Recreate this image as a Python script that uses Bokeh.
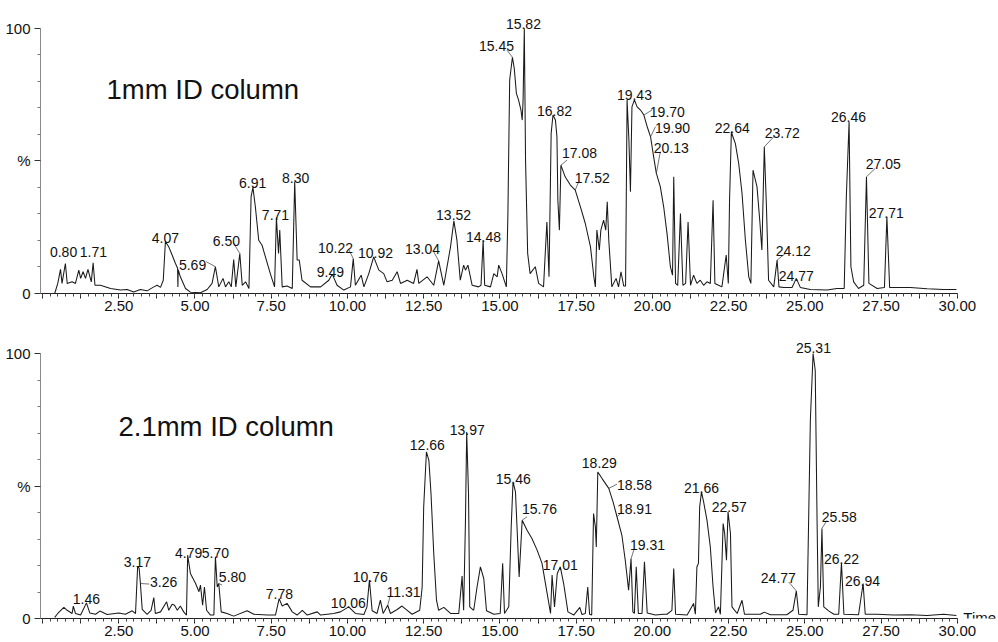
from bokeh.plotting import figure
from bokeh.layouts import column
from bokeh.models import (Range1d, SingleIntervalTicker, FixedTicker, CustomJSTickFormatter,
                          Label, ColumnDataSource)
from bokeh.embed import file_html
from bokeh.resources import INLINE
from bokeh.core.properties import value

# ---------------- data: 1 mm ID column (time in min, relative intensity %) ----------------
top_time = [0.40, 0.50, 0.59, 0.64, 0.75, 0.81, 0.97, 1.08, 1.19, 1.25, 1.33, 1.41, 1.49, 1.60, 1.66,
            1.72, 1.90, 2.23, 2.56, 2.78, 2.99, 3.21, 3.43, 3.65, 3.76, 3.87, 3.96, 4.03, 4.14, 4.25,
            4.36, 4.43, 4.44, 4.45, 4.52, 4.69, 4.85, 5.18, 5.40, 5.56, 5.67, 5.78, 5.92, 6.00, 6.11,
            6.19, 6.27, 6.34, 6.47, 6.55, 6.66, 6.77, 6.84, 6.90, 6.98, 7.09, 7.20, 7.31, 7.47, 7.61,
            7.67, 7.74, 7.78, 7.86, 8.02, 8.19, 8.27, 8.35, 8.42, 8.51, 8.79, 9.12, 9.39, 9.50, 9.66,
            9.88, 10.10, 10.19, 10.26, 10.45, 10.54, 10.70, 10.86, 11.03, 11.19, 11.30, 11.47, 11.63,
            11.74, 11.96, 12.17, 12.28, 12.34, 12.61, 12.83, 12.99, 13.16, 13.38, 13.49, 13.59, 13.70,
            13.81, 13.87, 13.95, 14.09, 14.30, 14.38, 14.45, 14.50, 14.69, 14.80, 14.91, 14.96, 15.07,
            15.21, 15.26, 15.32, 15.41, 15.47, 15.54, 15.61, 15.69, 15.73, 15.76, 15.80, 15.84, 15.91,
            15.99, 16.16, 16.27, 16.43, 16.54, 16.61, 16.68, 16.74, 16.82, 16.87, 16.90, 16.95, 17.00,
            17.14, 17.31, 17.47, 17.64, 17.80, 17.97, 18.08, 18.13, 18.18, 18.26, 18.31, 18.40, 18.47,
            18.52, 18.57, 18.67, 18.81, 18.89, 18.97, 19.06, 19.12, 19.17, 19.23, 19.28, 19.33, 19.41,
            19.50, 19.61, 19.72, 19.83, 19.94, 20.04, 20.13, 20.26, 20.37, 20.48, 20.59, 20.66, 20.70,
            20.76, 20.83, 20.92, 21.00, 21.09, 21.17, 21.25, 21.35, 21.46, 21.57, 21.68, 21.79, 21.90,
            21.99, 22.05, 22.17, 22.28, 22.42, 22.49, 22.53, 22.59, 22.64, 22.72, 22.83, 22.94, 23.05,
            23.16, 23.23, 23.30, 23.43, 23.52, 23.59, 23.67, 23.74, 23.81, 23.98, 24.09, 24.15, 24.31,
            24.58, 24.72, 24.85, 25.18, 25.73, 26.05, 26.29, 26.36, 26.45, 26.51, 26.60, 26.76, 26.93,
            27.02, 27.10, 27.37, 27.61, 27.69, 27.78, 28.46, 29.01, 29.55, 29.97]
top_pct = [0, 3.8, 9.1, 3.8, 11.3, 3.8, 4.4, 3.8, 8.8, 5.7, 8.2, 5.7, 9.1, 4.4, 11.6,
           3.1, 3.1, 1.9, 1.3, 1.5, 0.6, 1.5, 1.0, 2.5, 3.1, 2.3, 5.0, 19.5, 17.6, 14.5,
           11.3, 9.5, 2.5, 9.0, 6.3, 1.9, 0.5, 0.3, 1.5, 3.8, 10.1, 2.5, 5.7, 2.5, 4.4,
           2.5, 12.8, 2.5, 15.1, 3.1, 4.4, 1.9, 36.5, 40.0, 32.7, 20.1, 18.2, 13.8, 7.5, 2.5,
           28.7, 15.1, 23.9, 2.5, 2.8, 1.9, 42.1, 12.6, 12.6, 5.0, 2.5, 2.5, 5.0, 7.3, 3.1,
           1.3, 2.5, 13.2, 3.1, 6.9, 2.5, 7.5, 13.8, 8.8, 7.5, 4.4, 5.0, 8.2,
           3.8, 5.0, 3.8, 9.1, 3.8, 6.3, 3.1, 12.3, 3.1, 17.6, 27.4, 20.1, 5.0,
           10.7, 8.8, 10.7, 3.1, 2.5, 3.1, 20.1, 3.1, 2.5, 7.5, 6.3, 10.7, 7.5,
           2.5, 28.9, 80.5, 89.1, 84.9, 75.5, 73.0, 69.2, 65.4, 73.0, 100, 50.3, 15.1,
           7.5, 10.1, 3.8, 2.5, 27.0, 6.3, 60.4, 67.3, 65.4, 59.1, 35.2, 23.9, 48.4,
           44.0, 40.9, 39.0, 32.7, 26.4, 17.6, 6.3, 2.5, 23.9, 16.4, 23.9, 27.7, 23.9,
           34.6, 20.1, 2.5, 5.7, 2.5, 8.2, 2.8, 2.8, 73.0, 57.9, 38.4, 70.4, 73.0,
           70.4, 69.2, 67.3, 62.9, 59.1, 51.6, 45.3, 40.3, 32.7, 22.6, 10.1, 6.9, 44.0,
           3.8, 3.1, 30.2, 3.1, 3.8, 27.0, 3.1, 6.9, 3.8, 5.0, 3.1, 4.4, 3.8,
           35.2, 3.8, 3.1, 2.5, 14.5, 3.8, 35.2, 61.0, 59.1, 56.6, 49.1, 37.7, 20.1,
           6.3, 3.8, 46.5, 40.3, 27.7, 16.4, 55.3, 32.7, 5.0, 2.5, 12.6, 2.5, 2.3,
           2.3, 5.7, 2.3, 1.5, 1.3, 1.9, 1.9, 36.5, 64.8, 10.1, 4.4, 1.9, 3.1,
           44.0, 3.8, 1.9, 2.3, 28.9, 2.3, 2.3, 1.8, 1.5, 1.5]

top_labels = ["0.80", "1.71", "4.07", "5.69", "6.50", "6.91", "7.71", "8.30", "9.49", "10.22",
              "10.92", "13.04", "13.52", "14.48", "15.45", "15.82", "16.82", "17.08", "17.52",
              "19.43", "19.70", "19.90", "20.13", "22.64", "23.72", "24.12", "24.77", "26.46",
              "27.05", "27.71"]
top_apex = [0.75, 1.66, 4.03, 5.67, 6.47, 6.90, 7.67, 8.27, 9.50, 10.19,
            10.86, 12.99, 13.49, 14.45, 15.41, 15.80, 16.74, 17.00, 17.47,
            19.41, 19.72, 19.94, 20.13, 22.59, 23.67, 24.09, 24.72, 26.45,
            27.02, 27.69]

# ---------------- data: 2.1 mm ID column ----------------
bot_time = [0.40, 0.50, 0.70, 0.81, 0.97, 1.01, 1.08, 1.25, 1.44, 1.55, 1.74, 1.88, 2.12, 2.50, 2.72,
            2.94, 3.05, 3.12, 3.17, 3.21, 3.27, 3.43, 3.56, 3.65, 3.70, 3.87, 4.07, 4.14, 4.25, 4.33,
            4.42, 4.52, 4.63, 4.72, 4.76, 4.85, 5.02, 5.13, 5.18, 5.25, 5.31, 5.38, 5.51, 5.62, 5.67,
            5.73, 5.78, 5.86, 6.05, 6.27, 6.71, 6.93, 7.37, 7.64, 7.76, 7.86, 8.02, 8.19, 8.35, 8.52,
            8.68, 9.01, 9.12, 9.55, 9.77, 10.04, 10.26, 10.54, 10.64, 10.72, 10.81, 10.97, 11.08,
            11.17, 11.32, 11.41, 11.63, 11.79, 11.96, 12.12, 12.37, 12.45, 12.50, 12.59, 12.67, 12.74,
            12.83, 12.92, 12.99, 13.16, 13.38, 13.65, 13.76, 13.81, 13.87, 13.91, 13.97, 14.01, 14.14,
            14.25, 14.36, 14.47, 14.56, 14.80, 15.01, 15.09, 15.15, 15.29, 15.37, 15.43, 15.51, 15.56,
            15.63, 15.73, 15.89, 16.05, 16.22, 16.38, 16.55, 16.66, 16.71, 16.79, 16.88, 16.98, 17.09,
            17.23, 17.42, 17.62, 17.69, 17.80, 17.88, 17.94, 18.01, 18.07, 18.13, 18.16, 18.21, 18.35,
            18.57, 18.71, 18.84, 19.00, 19.11, 19.22, 19.30, 19.36, 19.41, 19.47, 19.54, 19.66, 19.74,
            19.83, 20.10, 20.37, 20.48, 20.64, 20.70, 20.76, 21.14, 21.35, 21.41, 21.46, 21.51, 21.55,
            21.61, 21.68, 21.79, 21.90, 21.99, 22.07, 22.17, 22.23, 22.32, 22.37, 22.43, 22.48, 22.56,
            22.61, 22.78, 22.94, 23.02, 23.54, 23.67, 23.87, 24.41, 24.61, 24.72, 24.80, 25.07, 25.18,
            25.27, 25.34, 25.40, 25.44, 25.51, 25.56, 25.62, 25.78, 25.95, 26.11, 26.20, 26.28, 26.76,
            26.91, 26.98, 27.37, 27.91, 28.46, 29.01, 29.55, 29.97]
bot_pct = [0.4, 1.9, 4.2, 3.1, 1.9, 4.7, 1.9, 1.3, 5.9, 2.1, 1.6, 2.8, 1.5, 2.1, 1.6,
           2.9, 1.9, 19.7, 18.9, 13.2, 3.4, 1.6, 3.1, 7.9, 1.9, 2.5, 6.3, 3.1, 5.4, 5.0,
           3.1, 4.7, 2.5, 1.3, 23.9, 17.0, 13.2, 10.1, 12.6, 5.0, 11.9, 3.1, 1.3, 1.3, 23.3,
           11.9, 13.2, 2.5, 1.9, 0.9, 2.9, 1.6, 1.3, 1.3, 7.5, 4.7, 5.7, 2.5, 1.3, 3.1,
           1.3, 2.5, 1.3, 1.9, 2.5, 4.4, 1.9, 1.5, 4.4, 14.5, 2.9, 1.9, 6.9,
           1.9, 5.0, 1.9, 3.4, 4.7, 3.1, 1.6, 3.1, 11.9, 42.1, 62.9, 59.7, 47.2,
           24.5, 6.9, 3.1, 4.2, 1.9, 1.9, 16.0, 3.1, 37.1, 70.4, 47.2, 4.4, 3.1,
           11.9, 19.5, 15.1, 2.9, 1.6, 1.9, 20.8, 1.9, 4.4, 34.6, 51.6, 47.8, 34.6,
           15.7, 37.1, 33.3, 30.2, 25.8, 20.8, 9.4, 1.9, 16.4, 4.4, 17.0, 19.5, 13.2,
           2.5, 1.3, 4.2, 1.5, 1.9, 11.9, 1.6, 1.3, 39.6, 34.6, 27.0, 55.3, 52.8,
           49.1, 44.0, 38.4, 31.4, 22.0, 10.7, 22.6, 2.5, 1.9, 19.5, 1.9, 1.9, 21.4,
           2.1, 1.3, 1.6, 1.6, 3.1, 18.9, 1.6, 1.3, 5.7, 1.6, 19.5, 20.8, 42.1,
           47.8, 44.0, 37.1, 27.0, 11.9, 2.1, 4.4, 1.6, 35.8, 32.1, 22.0, 40.3, 32.1,
           4.4, 1.9, 6.9, 1.6, 1.6, 2.4, 1.4, 1.4, 3.1, 10.4, 1.6, 1.4, 74.8,
           100, 93.7, 37.1, 4.4, 11.9, 34.0, 4.4, 2.9, 1.6, 1.6, 21.0, 1.6, 1.4,
           13.2, 1.6, 1.6, 1.3, 1.4, 1.1, 1.6, 1.1]

bot_labels = ["1.46", "3.17", "3.26", "4.79", "5.70", "5.80", "7.78", "10.06", "10.76", "11.31",
              "12.66", "13.97", "15.46", "15.76", "17.01", "18.29", "18.58", "18.91", "19.31",
              "21.66", "22.57", "24.77", "25.31", "25.58", "26.22", "26.94"]
bot_apex = [1.44, 3.12, 3.21, 4.76, 5.67, 5.78, 7.76, 10.04, 10.72, 11.32,
            12.59, 13.91, 15.43, 15.73, 16.98, 18.21, 18.57, 18.84, 19.30,
            21.61, 22.48, 24.72, 25.27, 25.56, 26.20, 26.91]

# ---------------- annotation layout (label anchor positions, leader starts) ----------------
top_lab_x = [0.69, 1.67, 4.03, 4.92, 6.03, 6.89, 7.64, 8.30, 9.44, 9.61,
             10.92, 12.46, 13.48, 14.46, 14.89, 15.77, 16.79, 17.61, 18.03,
             19.41, 20.49, 20.66, 20.62, 22.62, 24.26, 24.62, 24.72, 26.43,
             27.57, 27.67]
top_lab_y = [15.6, 15.6, 21.0, 10.7, 19.8, 41.6, 29.6, 43.5, 8.1, 17.0,
             15.1, 16.6, 29.5, 21.4, 93.4, 101.6, 68.8, 52.8, 43.4,
             74.8, 68.5, 62.3, 54.7, 62.3, 60.4, 16.1, 6.5, 66.4,
             48.7, 30.4]
top_leader = {"5.69": (5.37, 12.0), "6.50": (6.27, 18.9), "10.22": (10.04, 16.6),
              "13.04": (12.83, 15.7), "15.45": (15.23, 91.8), "17.08": (17.20, 50.3),
              "17.52": (17.58, 42.1), "19.70": (19.99, 69.2), "19.90": (20.10, 62.9),
              "20.13": (20.26, 53.5), "23.72": (23.98, 59.1), "24.12": (24.36, 15.1),
              "27.05": (27.31, 47.2)}

bot_lab_x = [1.44, 3.11, 3.97, 4.79, 5.67, 6.23, 7.77, 10.03, 10.75, 11.84,
             12.62, 13.93, 15.44, 16.30, 16.98, 18.26, 19.41, 19.41, 19.84,
             21.61, 22.52, 24.13, 25.28, 26.13, 26.20, 26.89]
bot_lab_y = [7.5, 21.4, 13.8, 24.8, 24.8, 15.7, 9.1, 5.9, 15.7, 10.1,
             65.4, 71.1, 52.8, 41.5, 20.1, 58.5, 50.3, 41.5, 27.7,
             49.1, 42.1, 15.1, 101.9, 38.4, 22.6, 14.1]
bot_leader = {"3.26": (3.50, 13.0), "5.80": (5.89, 12.6), "11.31": (11.41, 8.8),
              "15.76": (15.89, 38.4), "18.58": (18.84, 50.7), "18.91": (19.01, 40.3),
              "19.31": (19.39, 25.8), "24.77": (24.47, 13.8), "25.58": (25.73, 37.1)}

FONT = "Liberation Sans"
X_START, X_END, X_AXIS_END = -0.066, 31.35, 30.0


def panel(title, tx, ty, t, pct, labels, apex, lx, ly, leaders, y_end, frame_h, show_time):
    p = figure(frame_width=958, frame_height=frame_h,
               x_range=Range1d(X_START, X_END), y_range=Range1d(0, y_end),
               output_backend="svg", toolbar_location=None,
               min_border_left=40, min_border_right=0, min_border_top=0, min_border_bottom=0)
    p.grid.visible = False
    p.outline_line_color = None
    p.background_fill_color = "white"
    p.border_fill_color = "white"

    p.line(t, pct, line_color="#1a1a1a", line_width=1.05)

    # leader lines from label to the peak apex (apex value looked up in the trace)
    x0, y0, x1, y1 = [], [], [], []
    for lab, ap in zip(labels, apex):
        if lab in leaders:
            sx, sy = leaders[lab]
            i = t.index(ap)
            x0.append(sx); y0.append(sy); x1.append(t[i]); y1.append(pct[i])
    p.segment(x0=x0, y0=y0, x1=x1, y1=y1, line_color="#333333", line_width=0.7)

    src = ColumnDataSource(dict(x=lx, y=ly, text=labels))
    p.text(x="x", y="y", text="text", source=src, text_align="center",
           text_baseline="alphabetic", text_font=value(FONT), text_font_size=value("14px"),
           text_color="#111111")

    p.add_layout(Label(x=tx, y=ty, text=title, text_font=FONT, text_font_size="27.5px",
                       text_baseline="alphabetic", text_color="#111111"))

    # x axis
    xa = p.xaxis[0]
    xa.bounds = (X_START, X_AXIS_END)
    xa.ticker = SingleIntervalTicker(interval=1.25, num_minor_ticks=5)
    xa.formatter = CustomJSTickFormatter(code="""
        const r = tick / 2.5;
        return (tick > 0.01 && tick < 30.01 && Math.abs(r - Math.round(r)) < 1e-6) ? tick.toFixed(2) : '';
    """)
    xa.axis_line_color = "#222222"
    xa.major_tick_line_color = "#222222"
    xa.minor_tick_line_color = "#444444"
    xa.major_tick_in = 0
    xa.major_tick_out = 5
    xa.minor_tick_in = 0
    xa.minor_tick_out = 3
    xa.major_label_standoff = 2
    xa.major_label_text_font = FONT
    xa.major_label_text_font_size = "15px"
    xa.major_label_text_color = "#111111"

    # y axis
    ya = p.yaxis[0]
    ya.ticker = FixedTicker(ticks=[0, 50, 100], minor_ticks=[10, 20, 30, 40, 60, 70, 80, 90])
    ya.bounds = (0, 100)
    ya.formatter = CustomJSTickFormatter(code="return tick == 50 ? '%' : tick.toFixed(0);")
    ya.axis_line_color = "#8a8a8a"
    ya.major_tick_line_color = "#333333"
    ya.minor_tick_line_color = "#777777"
    ya.major_tick_in = 0
    ya.major_tick_out = 6
    ya.minor_tick_in = 0
    ya.minor_tick_out = 3
    ya.major_label_standoff = 4
    ya.major_label_text_font = FONT
    ya.major_label_text_font_size = "15px"
    ya.major_label_text_color = "#111111"

    if show_time:
        # the frame clips annotations, so the label sits on the axis line
        p.add_layout(Label(x=X_AXIS_END, y=0, x_offset=6, y_offset=1, text="Time", text_font=FONT,
                           text_font_size="15px", text_baseline="alphabetic", text_color="#111111"))
    return p


p1 = panel("1mm ID column", 2.10, 77.0, top_time, top_pct, top_labels, top_apex,
           top_lab_x, top_lab_y, top_leader, 110.5, 293, False)
p2 = panel("2.1mm ID column", 2.49, 72.6, bot_time, bot_pct, bot_labels, bot_apex,
           bot_lab_x, bot_lab_y, bot_leader, 115.1, 305, True)

layout = column(p1, p2, spacing=0)
open("out.html", "w").write(file_html(layout, INLINE))
